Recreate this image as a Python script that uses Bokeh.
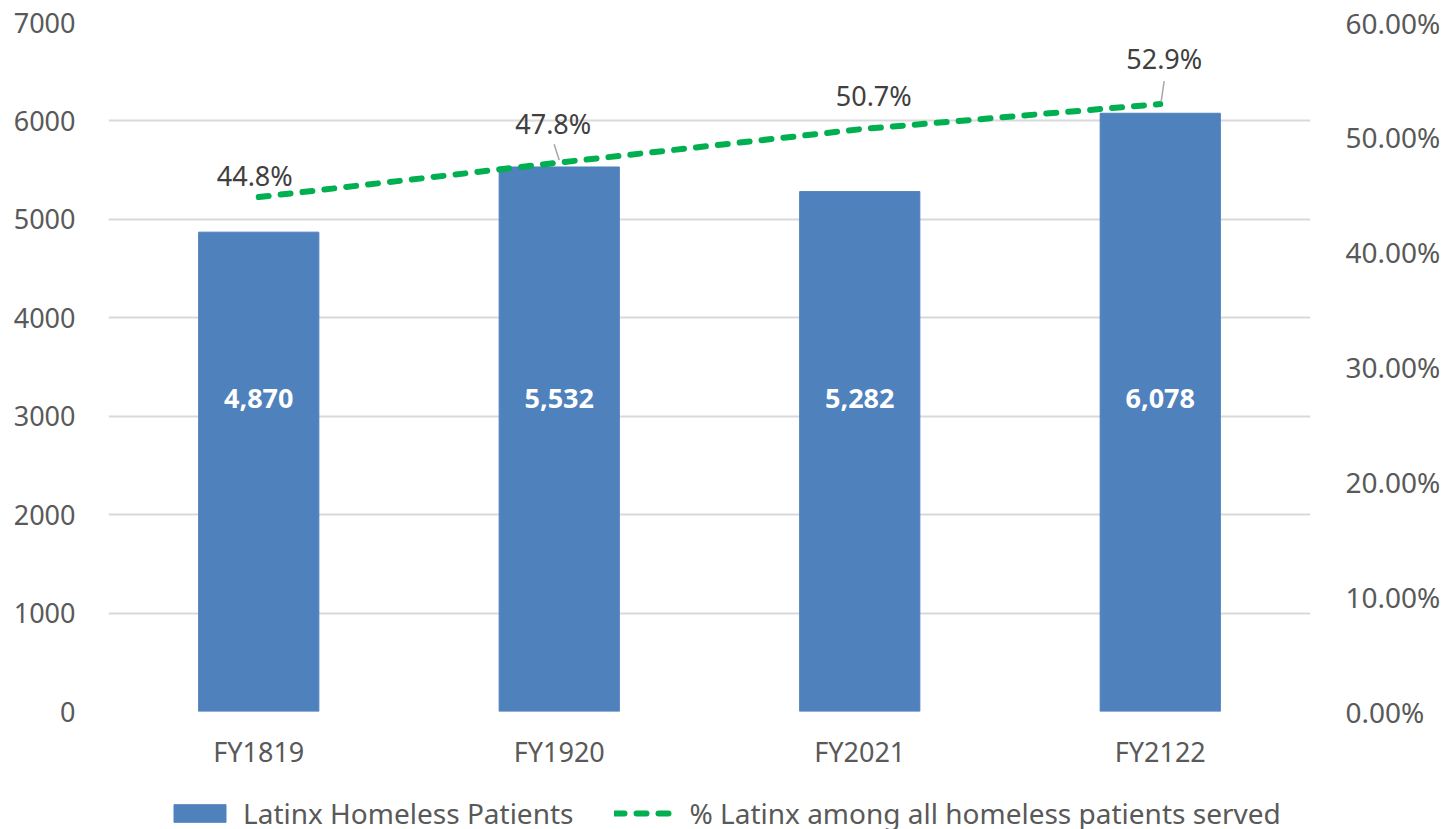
from bokeh.plotting import figure
from bokeh.layouts import column
from bokeh.models import (Range1d, LinearAxis, FactorRange, ColumnDataSource, Legend,
                          LegendItem, FixedTicker, PrintfTickFormatter, BasicTickFormatter)
from bokeh.transform import dodge
from bokeh.core.properties import value
from bokeh.embed import file_html
from bokeh.resources import INLINE

# ---- data ----
categories = ["FY1819", "FY1920", "FY2021", "FY2122"]
patients = [4870, 5532, 5282, 6078]
pct_latinx = [44.8, 47.8, 50.7, 52.9]
patient_labels = ["4,870", "5,532", "5,282", "6,078"]
pct_labels = ["44.8%", "47.8%", "50.7%", "52.9%"]
left_ticks = [0, 1000, 2000, 3000, 4000, 5000, 6000, 7000]
right_ticks = [0, 10, 20, 30, 40, 50, 60]
bar_series_name = "Latinx Homeless Patients"
line_series_name = "% Latinx among all homeless patients served"

# ---- styles ----
FONT = "Noto Sans"
BAR_COLOR = "#4f81bd"
LINE_COLOR = "#00b050"
TEXT_COLOR = "#595959"
LABEL_COLOR = "#404040"
GRID_COLOR = "#d9d9d9"
pct_label_dx = [-4, -6, 14, 4]
pct_label_dy = [-22, -39, -34, -46]
bar_label_level = 3180
LINE_DASH = "10 12"

p = figure(width=1443, height=790, x_range=FactorRange(factors=categories),
           y_range=Range1d(0, 7000), output_backend="svg", toolbar_location=None,
           min_border_left=108, min_border_right=130, min_border_top=22,
           min_border_bottom=79)
p.extra_y_ranges = {"pct": Range1d(0, 60)}
p.outline_line_color = None
p.background_fill_color = "white"
p.border_fill_color = "white"

# axes
p.yaxis.ticker = FixedTicker(ticks=left_ticks)
p.yaxis.formatter = BasicTickFormatter(use_scientific=False)
for ax in [p.xaxis[0], p.yaxis[0]]:
    ax.axis_line_color = None
    ax.major_tick_line_color = None
    ax.minor_tick_line_color = None
    ax.major_label_text_font = FONT
    ax.major_label_text_font_size = "27px"
    ax.major_label_text_color = TEXT_COLOR
p.yaxis.major_label_standoff = 27
p.xaxis.major_label_standoff = 15

rax = LinearAxis(y_range_name="pct", ticker=FixedTicker(ticks=right_ticks),
                 formatter=PrintfTickFormatter(format="%.2f%%"))
rax.axis_line_color = None
rax.major_tick_line_color = None
rax.minor_tick_line_color = None
rax.major_label_text_font = FONT
rax.major_label_text_font_size = "28px"
rax.major_label_text_color = TEXT_COLOR
rax.major_label_standoff = 29
p.add_layout(rax, "right")

p.xgrid.grid_line_color = None
p.ygrid.grid_line_color = GRID_COLOR
p.ygrid.grid_line_width = 2

src = ColumnDataSource(dict(cat=categories, n=patients, pct=pct_latinx,
                            nlab=patient_labels, plab=pct_labels,
                            dx=pct_label_dx, dy=pct_label_dy,
                            ly=[bar_label_level] * len(categories)))

p.vbar(x="cat", top="n", width=0.4, source=src, fill_color=BAR_COLOR,
       line_color=BAR_COLOR)
p.line(x="cat", y="pct", source=src, y_range_name="pct", line_color=LINE_COLOR,
       line_width=6, line_dash=LINE_DASH, line_cap="round")

# bar value labels
p.text(x="cat", y="ly", text="nlab", source=src, text_align="center",
       text_baseline="middle", text_color="white", text_font=value(FONT),
       text_font_size="27px", text_font_style="bold")

# leader lines for two labels
lead1 = ColumnDataSource(dict(cat=[categories[1]], y0=[pct_latinx[1] + 0.2], y1=[pct_latinx[1] + 1.6]))
p.segment(x0=dodge("cat", 0.0, range=p.x_range), y0="y0",
          x1=dodge("cat", -0.017, range=p.x_range), y1="y1",
          source=lead1, y_range_name="pct", line_color="#a6a6a6", line_width=1.5)
lead2 = ColumnDataSource(dict(cat=[categories[3]], y0=[pct_latinx[3] + 0.2], y1=[pct_latinx[3] + 2.0]))
p.segment(x0=dodge("cat", 0.003, range=p.x_range), y0="y0",
          x1=dodge("cat", 0.013, range=p.x_range), y1="y1",
          source=lead2, y_range_name="pct", line_color="#a6a6a6", line_width=1.5)

# percent labels
p.text(x="cat", y="pct", text="plab", source=src, y_range_name="pct",
       x_offset="dx", y_offset="dy", text_align="center", text_baseline="middle",
       text_color=LABEL_COLOR, text_font=value(FONT), text_font_size="27px")

# ---- legend strip (separate figure below the chart) ----
lg = figure(width=1443, height=39, x_range=Range1d(0, 1), y_range=Range1d(0, 1),
            output_backend="svg", toolbar_location=None, min_border=0,
            x_axis_type=None, y_axis_type=None)
lg.outline_line_color = None
lg.xgrid.visible = False
lg.ygrid.visible = False
# legend-swatch renderers: one off-range sample each, only used to draw the legend keys
swatch = ColumnDataSource(dict(x=[-5, -6], top=[-5, -5], y=[-5, -5]))
lbar = lg.vbar(x="x", top="top", width=0.1, source=swatch, fill_color=BAR_COLOR,
               line_color=BAR_COLOR)
lline = lg.line(x="x", y="y", source=swatch, line_color=LINE_COLOR, line_width=6,
                line_dash=LINE_DASH, line_cap="round")

legend = Legend(items=[LegendItem(label=bar_series_name, renderers=[lbar]),
                       LegendItem(label=line_series_name, renderers=[lline])],
                orientation="horizontal", location=(59, -3))
legend.label_text_font = FONT
legend.label_text_font_size = "28px"
legend.label_text_color = TEXT_COLOR
legend.label_height = 22
legend.label_standoff = 11
legend.glyph_width = 65
legend.glyph_height = 22
legend.spacing = 40
legend.padding = 0
legend.margin = 0
legend.border_line_color = None
legend.background_fill_alpha = 0
lg.add_layout(legend, "center")

layout = column(p, lg, spacing=0)
open("out.html", "w").write(file_html(layout, INLINE))
